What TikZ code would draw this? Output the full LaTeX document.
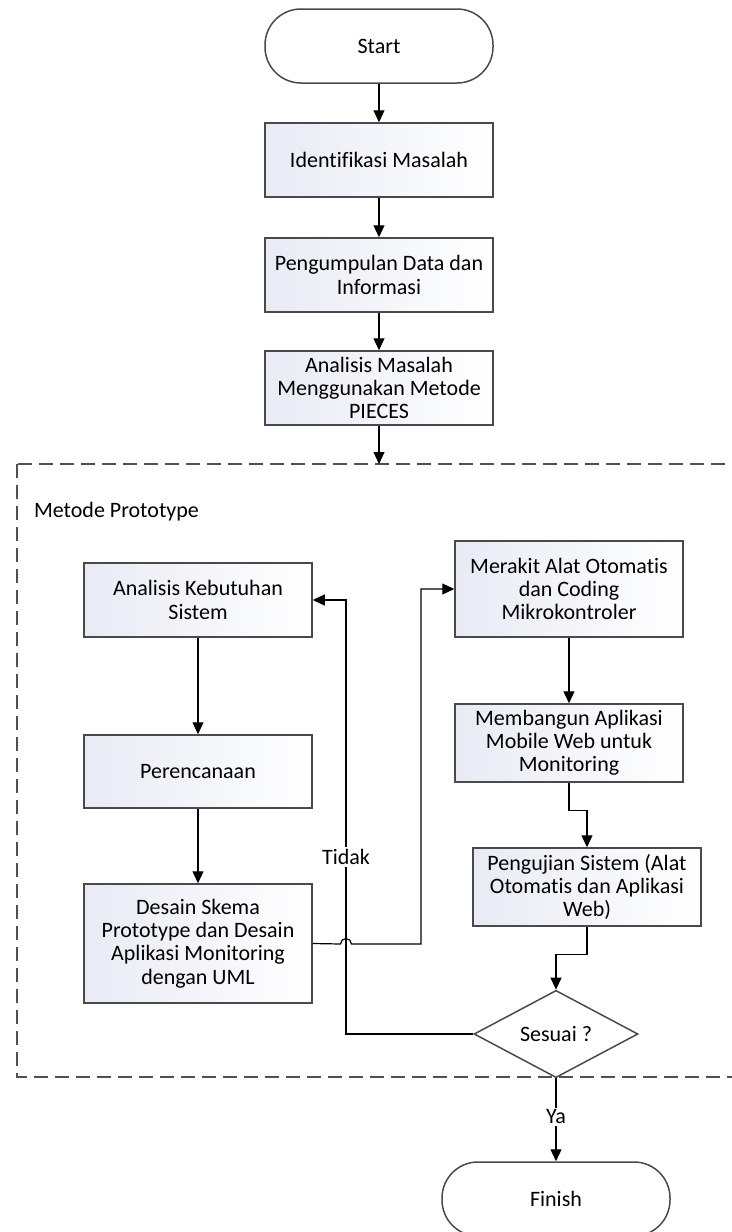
\documentclass[tikz,border=0pt]{standalone}
\usepackage{fontspec}
\setmainfont[Ligatures=NoCommon]{Carlito}
\usetikzlibrary{arrows.meta,shapes.geometric}

\definecolor{boxline}{HTML}{4A4A4A}
\definecolor{boxshade}{HTML}{E8EBF4}
\definecolor{framegray}{HTML}{505050}

\begin{document}
\begin{tikzpicture}[x=0.5pt, y=-0.5pt, >={Triangle[length=6pt,width=5.5pt]}, line join=miter,
    font=\fontsize{11}{11.6}\selectfont,
    proc/.style={draw=boxline, line width=0.75pt, left color=boxshade, right color=white,
      minimum width=114pt, minimum height=37pt, inner sep=0pt, align=center},
    term/.style={draw=boxline, line width=0.75pt, fill=white, rounded corners=18pt,
      minimum width=114pt, minimum height=37pt, inner sep=0pt},
    decide/.style={diamond, draw=boxline, line width=0.75pt, fill=white,
      minimum width=82pt, minimum height=36pt, inner sep=0pt},
    conn/.style={->, line width=0.6pt},
    lbl/.style={fill=white, inner sep=1pt},
    frame/.style={draw=framegray, line width=0.6pt, dash pattern=on 7pt off 3.5pt}]
		\useasboundingbox (0,0) rectangle (732,1232);
		
		% prototype frame
		\draw[frame] (17,464) rectangle (745,1077);
		\node[anchor=west] (frametitle) at (27,512) {Metode Prototype};
		\coordinate (frametop) at (379,464);
		
		% main column
		\node[term] (start) at (379,46) {Start};
		\node[proc] (ident) at (379,160) {Identifikasi Masalah};
		\node[proc] (kumpul) at (379,275) {Pengumpulan Data dan\\Informasi};
		\node[proc] (masalah) at (379,388) {Analisis Masalah\\Menggunakan Metode\\PIECES};
		
		% left column
		\node[proc] (kebutuhan) at (198,600) {Analisis Kebutuhan\\Sistem};
		\node[proc, minimum height=36.5pt] (rencana) at (198,771.5) {Perencanaan};
		\node[proc, minimum height=59.5pt] (desain) at (198,943.5) {Desain Skema\\Prototype dan Desain\\Aplikasi Monitoring\\dengan UML};
		
		% right column
		\node[proc, minimum height=48pt] (merakit) at (569,589) {Merakit Alat Otomatis\\dan Coding\\Mikrokontroler};
		\node[proc, minimum height=39pt] (bangun) at (569,743) {Membangun Aplikasi\\Mobile Web untuk\\Monitoring};
		\node[proc, minimum height=39pt] (uji) at (587,887) {Pengujian Sistem (Alat\\Otomatis dan Aplikasi\\Web)};
		\node[decide] (sesuai) at (556,1034) {Sesuai ?};
		\node[term] (finish) at (556,1199) {Finish};
		
		\coordinate (hop) at (346,944);
		\coordinate (bend) at (421,944);
		\coordinate (loop) at (346,1034);
		
		% connectors
		\draw[conn] (start) -- (ident);
		\draw[conn] (ident) -- (kumpul);
		\draw[conn] (kumpul) -- (masalah);
		\draw[conn] (masalah) -- (frametop);
		\draw[conn] (kebutuhan) -- (rencana);
		\draw[conn] (rencana) -- (desain);
		\draw[conn] (desain.east) -- ([xshift=-2.75pt]hop) arc[start angle=180, end angle=0, radius=2.75pt] -- (bend) |- (merakit.west);
		\draw[conn] (merakit) -- (bangun);
		\draw[conn] (bangun.south) -- ++(0,28) -| (uji.north);
		\draw[conn] (uji.south) -- ++(0,28) -| (sesuai.north);
		\draw[conn] (sesuai.west) -- (loop) |- (kebutuhan.east);
		\draw[conn] (sesuai.south) -- (finish.north);
		
		\node[lbl] (tidak) at (346,857) {Tidak};
		\node[lbl] (ya) at (556,1117) {Ya};
	\end{tikzpicture}
\end{document}
